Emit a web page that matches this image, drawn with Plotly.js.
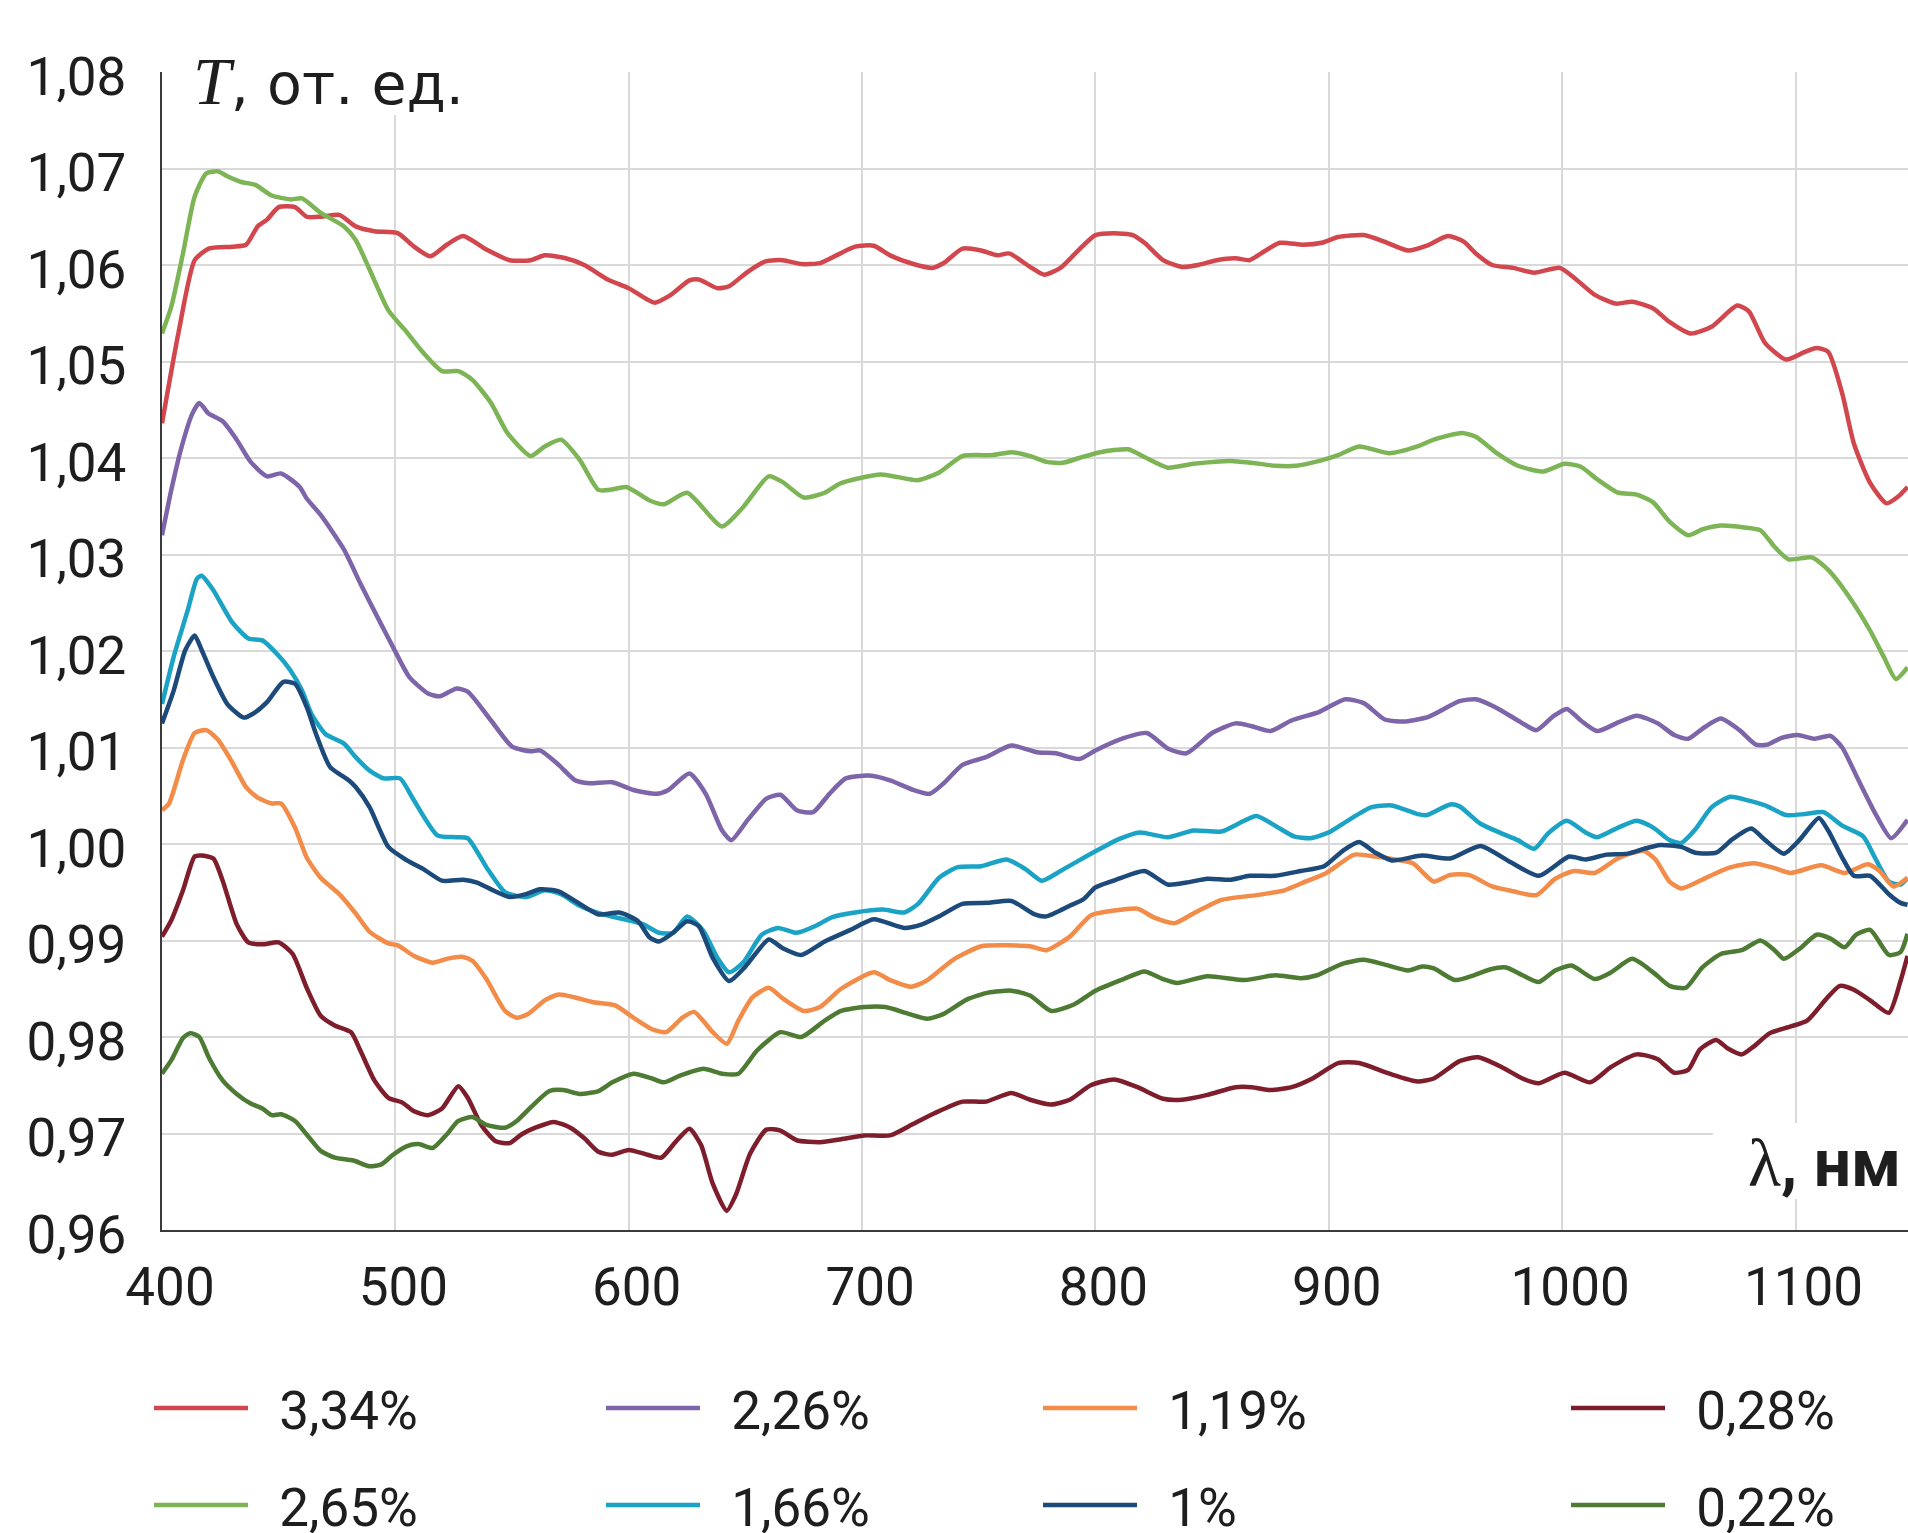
<!DOCTYPE html>
<html>
<head>
<meta charset="utf-8">
<script src="https://cdn.plot.ly/plotly-3.0.1.min.js"></script>
<style>html,body{margin:0;padding:0;background:#fff;}#chart{width:1908px;height:1533px;}</style>
</head>
<body>
<div id="chart"></div>
<script>
// Series: [wavelength nm, T]
const s334 = [[400,1.0436],[407,1.0529],[414,1.0605],[420,1.0617],[430,1.0619],[436,1.0621],[441,1.064],[445,1.0647],[450,1.066],[457,1.066],[462,1.065],[468,1.065],[476,1.0652],[483,1.064],[491,1.0635],[501,1.0633],[508,1.0619],[515,1.0609],[522,1.0621],[529,1.063],[539,1.0616],[549,1.0605],[558,1.0605],[564,1.061],[573,1.0607],[581,1.06],[591,1.0585],[600,1.0576],[611,1.0561],[618,1.0569],[626,1.0584],[630,1.0585],[638,1.0576],[643,1.0578],[651,1.0593],[659,1.0604],[666,1.0605],[674,1.0601],[682,1.0602],[689,1.061],[697,1.0619],[705,1.062],[712,1.061],[722,1.0601],[730,1.0597],[735,1.0602],[743,1.0617],[751,1.0615],[758,1.061],[763,1.0612],[772,1.0598],[778,1.059],[785,1.0597],[793,1.0616],[800,1.0631],[808,1.0633],[816,1.0631],[821,1.0623],[829,1.0605],[837,1.0598],[844,1.06],[852,1.0605],[860,1.0607],[866,1.0605],[871,1.0612],[879,1.0623],[889,1.0621],[897,1.0623],[904,1.0629],[915,1.0631],[924,1.0624],[934,1.0615],[942,1.062],[951,1.063],[958,1.0624],[963,1.0612],[970,1.06],[979,1.0597],[988,1.0592],[999,1.0597],[1006,1.0585],[1014,1.0569],[1023,1.056],[1030,1.0562],[1039,1.0555],[1046,1.0541],[1055,1.0529],[1064,1.0536],[1075,1.0558],[1080,1.0552],[1087,1.0519],[1096,1.0502],[1104,1.051],[1109,1.0514],[1114,1.051],[1120,1.0467],[1125,1.0415],[1132,1.0374],[1139,1.0353],[1144,1.036],[1148,1.037]];

const s265 = [[400,1.0529],[404,1.0557],[409,1.0612],[414,1.0671],[419,1.0695],[424,1.0697],[428,1.0692],[434,1.0686],[440,1.0683],[447,1.0672],[455,1.0668],[460,1.0669],[468,1.0654],[478,1.064],[483,1.0626],[489,1.0595],[497,1.0553],[504,1.0533],[512,1.0509],[520,1.049],[527,1.049],[533,1.0481],[541,1.0457],[548,1.0426],[558,1.0402],[564,1.0412],[571,1.0419],[579,1.0398],[587,1.0367],[592,1.0367],[599,1.037],[609,1.0356],[615,1.0352],[625,1.0364],[640,1.0329],[649,1.0349],[660,1.0381],[666,1.0375],[675,1.0359],[684,1.0364],[691,1.0374],[708,1.0383],[724,1.0377],[733,1.0385],[743,1.0402],[756,1.0403],[764,1.0406],[772,1.0402],[779,1.0396],[786,1.0395],[793,1.04],[802,1.0406],[814,1.0409],[821,1.0401],[831,1.039],[842,1.0394],[858,1.0397],[867,1.0395],[877,1.0392],[886,1.0392],[896,1.0397],[904,1.0403],[913,1.0412],[926,1.0405],[938,1.0412],[945,1.0419],[957,1.0426],[963,1.0422],[972,1.0405],[981,1.0392],[992,1.0386],[1001,1.0394],[1008,1.0391],[1015,1.0378],[1024,1.0364],[1032,1.0362],[1039,1.0354],[1046,1.0334],[1054,1.032],[1060,1.0326],[1068,1.033],[1078,1.0328],[1085,1.0325],[1091,1.0308],[1097,1.0295],[1107,1.0297],[1114,1.0284],[1123,1.0256],[1132,1.0221],[1138,1.0193],[1143,1.0171],[1148,1.0183]];

const s226 = [[400,1.032],[404,1.0367],[408,1.0408],[413,1.0446],[416,1.0457],[420,1.0446],[426,1.0438],[432,1.0419],[438,1.0396],[445,1.0381],[451,1.0384],[459,1.037],[462,1.0358],[468,1.0341],[478,1.0305],[485,1.027],[493,1.0232],[499,1.0204],[506,1.0173],[514,1.0156],[519,1.0153],[526,1.0161],[531,1.0158],[541,1.0128],[550,1.0101],[558,1.0096],[562,1.0097],[570,1.0082],[577,1.0066],[583,1.0063],[593,1.0064],[602,1.0056],[612,1.0052],[617,1.0056],[626,1.0073],[633,1.0052],[640,1.0014],[644,1.0004],[651,1.0025],[659,1.0047],[665,1.0051],[672,1.0035],[679,1.0033],[686,1.0052],[693,1.0068],[703,1.0071],[712,1.0066],[722,1.0056],[729,1.0052],[735,1.0063],[743,1.0082],[753,1.009],[764,1.0102],[775,1.0095],[783,1.0094],[793,1.0088],[800,1.0097],[810,1.0108],[822,1.0115],[831,1.0099],[839,1.0094],[850,1.0115],[860,1.0125],[867,1.0122],[875,1.0117],[884,1.0128],[896,1.0137],[907,1.015],[915,1.0146],[924,1.0129],[933,1.0127],[943,1.0132],[956,1.0148],[963,1.015],[972,1.0141],[981,1.0128],[989,1.0118],[996,1.0132],[1002,1.014],[1008,1.0128],[1015,1.0117],[1024,1.0126],[1032,1.0133],[1041,1.0125],[1048,1.0113],[1054,1.0109],[1061,1.0121],[1068,1.013],[1076,1.0118],[1083,1.0103],[1088,1.0103],[1094,1.011],[1101,1.0113],[1108,1.0109],[1115,1.0112],[1120,1.01],[1127,1.0066],[1135,1.0028],[1141,1.0006],[1148,1.0025]];

const s166 = [[400,1.0145],[405,1.0194],[411,1.0242],[415,1.0275],[417,1.0278],[422,1.0263],[430,1.023],[437,1.0213],[443,1.0211],[450,1.0195],[455,1.018],[460,1.0159],[464,1.0135],[470,1.0114],[478,1.0104],[483,1.009],[489,1.0076],[495,1.0068],[502,1.0068],[508,1.0045],[518,1.0009],[526,1.0007],[531,1.0006],[539,0.9976],[547,0.995],[556,0.9945],[564,0.9952],[571,0.9948],[579,0.9936],[589,0.9927],[598,0.9922],[606,0.9917],[613,0.9908],[619,0.9908],[625,0.9925],[632,0.991],[638,0.9882],[643,0.9867],[649,0.9877],[657,0.9906],[664,0.9913],[672,0.9908],[680,0.9915],[687,0.9924],[697,0.9929],[709,0.9932],[718,0.9929],[724,0.9938],[733,0.9965],[741,0.9976],[751,0.9977],[762,0.9984],[770,0.9974],[777,0.9962],[785,0.9972],[793,0.9983],[802,0.9995],[810,1.0005],[819,1.0012],[831,1.0007],[842,1.0014],[854,1.0013],[862,1.0022],[869,1.0029],[877,1.0019],[885,1.0008],[892,1.0006],[900,1.0012],[908,1.0024],[918,1.0038],[927,1.004],[938,1.0031],[942,1.003],[952,1.0041],[956,1.0039],[965,1.0021],[974,1.0011],[981,1.0004],[988,0.9995],[994,1.0011],[1002,1.0024],[1010,1.0012],[1015,1.0007],[1024,1.0017],[1032,1.0024],[1039,1.0017],[1046,1.0004],[1051,1.0001],[1057,1.0015],[1064,1.0038],[1072,1.0049],[1080,1.0045],[1087,1.004],[1096,1.003],[1104,1.0031],[1112,1.0033],[1120,1.0019],[1129,1.0008],[1134,0.9986],[1140,0.9961],[1145,0.9958],[1148,0.9965]];

const s119 = [[400,1.0035],[403,1.0042],[409,1.0087],[414,1.0115],[419,1.0118],[424,1.0108],[430,1.0085],[436,1.0059],[441,1.0048],[447,1.0042],[451,1.0042],[457,1.0017],[462,0.9986],[468,0.9965],[476,0.9948],[483,0.9928],[489,0.9909],[497,0.9897],[501,0.9895],[508,0.9884],[516,0.9877],[522,0.9881],[529,0.9883],[533,0.9879],[539,0.986],[547,0.9827],[552,0.982],[557,0.9824],[564,0.9838],[570,0.9844],[577,0.9841],[585,0.9836],[594,0.9833],[602,0.982],[610,0.9808],[616,0.9805],[623,0.982],[628,0.9826],[636,0.9805],[642,0.9793],[647,0.9817],[653,0.9841],[660,0.9851],[666,0.984],[675,0.9827],[682,0.9831],[691,0.985],[705,0.9867],[712,0.9859],[721,0.9852],[728,0.9859],[739,0.988],[751,0.9894],[762,0.9895],[772,0.9894],[779,0.989],[789,0.9904],[798,0.9926],[808,0.9931],[818,0.9933],[825,0.9924],[834,0.9918],[842,0.9928],[854,0.9942],[869,0.9947],[881,0.9952],[890,0.9961],[899,0.997],[911,0.9989],[920,0.9987],[926,0.9985],[936,0.998],[945,0.9961],[952,0.9968],[960,0.9968],[970,0.9956],[979,0.9951],[989,0.9947],[997,0.9964],[1005,0.9972],[1014,0.997],[1023,0.9984],[1029,0.999],[1035,0.9993],[1040,0.9984],[1046,0.9961],[1051,0.9954],[1060,0.9963],[1071,0.9975],[1082,0.998],[1091,0.9975],[1098,0.997],[1111,0.9978],[1121,0.997],[1131,0.9979],[1136,0.9972],[1142,0.9956],[1148,0.9965]];

const s100 = [[400,1.0125],[405,1.0159],[410,1.0201],[414,1.0216],[417,1.0201],[422,1.0173],[428,1.0145],[435,1.0131],[439,1.0135],[445,1.0147],[452,1.0168],[457,1.0166],[462,1.0142],[466,1.0114],[472,1.008],[480,1.0066],[483,1.0059],[489,1.0038],[497,0.9997],[505,0.9983],[512,0.9974],[520,0.9962],[529,0.9963],[535,0.996],[541,0.9953],[549,0.9945],[556,0.9948],[562,0.9953],[570,0.9951],[577,0.9941],[587,0.9927],[596,0.9929],[604,0.992],[609,0.9903],[613,0.9899],[619,0.9908],[625,0.992],[630,0.9915],[636,0.9882],[643,0.9858],[650,0.9873],[660,0.9901],[666,0.9892],[674,0.9885],[684,0.9899],[695,0.9911],[705,0.9922],[718,0.9913],[726,0.9917],[733,0.9925],[743,0.9938],[754,0.9939],[764,0.9941],[774,0.9927],[779,0.9925],[789,0.9936],[795,0.9943],[800,0.9955],[810,0.9964],[821,0.9972],[831,0.9958],[839,0.996],[848,0.9964],[858,0.9963],[866,0.9967],[877,0.9967],[888,0.9972],[898,0.9977],[906,0.9993],[913,1.0002],[920,0.9991],[927,0.9983],[940,0.9988],[952,0.9985],[965,0.9998],[978,0.9981],[990,0.9967],[1003,0.9987],[1010,0.9984],[1019,0.9989],[1028,0.999],[1035,0.9995],[1042,0.9999],[1051,0.9997],[1057,0.9991],[1066,0.9991],[1073,1.0005],[1081,1.0016],[1087,1.0004],[1095,0.999],[1102,1.0005],[1110,1.0027],[1114,1.0014],[1120,0.9986],[1125,0.9967],[1132,0.9967],[1140,0.9948],[1145,0.9939],[1148,0.9937]];

const s028 = [[400,0.9904],[404,0.9921],[409,0.9952],[414,0.9987],[417,0.9988],[422,0.9985],[426,0.9962],[432,0.9917],[437,0.9898],[443,0.9896],[450,0.9898],[456,0.9886],[462,0.9851],[468,0.9822],[474,0.9812],[481,0.9805],[485,0.9786],[491,0.9755],[497,0.9737],[503,0.9732],[508,0.9723],[514,0.9719],[520,0.9726],[527,0.9749],[531,0.9737],[537,0.9708],[543,0.9692],[549,0.969],[554,0.9699],[560,0.9706],[568,0.9712],[575,0.9706],[581,0.9695],[587,0.9681],[593,0.9678],[600,0.9683],[608,0.9678],[614,0.9675],[620,0.9691],[626,0.9705],[631,0.9688],[636,0.9648],[642,0.962],[646,0.9637],[652,0.9679],[659,0.9704],[665,0.9703],[672,0.9693],[682,0.9691],[691,0.9694],[701,0.9698],[712,0.9698],[722,0.971],[731,0.9721],[743,0.9733],[753,0.9733],[764,0.9742],[772,0.9735],[781,0.973],[789,0.9735],[798,0.975],[808,0.9756],[818,0.9748],[829,0.9736],[837,0.9735],[848,0.974],[860,0.9748],[867,0.9748],[875,0.9745],[884,0.9748],[893,0.9757],[904,0.9773],[913,0.9773],[926,0.9762],[938,0.9754],[945,0.9757],[956,0.9775],[964,0.9779],[974,0.9769],[983,0.9757],[990,0.9752],[1001,0.9763],[1012,0.9753],[1021,0.9769],[1032,0.9782],[1041,0.9777],[1048,0.9763],[1054,0.9766],[1059,0.9787],[1066,0.9797],[1071,0.9788],[1077,0.9782],[1082,0.979],[1089,0.9804],[1098,0.9811],[1105,0.9817],[1113,0.9839],[1119,0.9853],[1125,0.9849],[1132,0.9838],[1140,0.9825],[1145,0.9858],[1148,0.9884]];

const s022 = [[400,0.9762],[404,0.9776],[409,0.9799],[412,0.9804],[416,0.98],[420,0.9779],[426,0.9755],[432,0.9741],[438,0.9731],[443,0.9726],[447,0.9719],[451,0.972],[457,0.9713],[462,0.9699],[468,0.9682],[474,0.9675],[482,0.9672],[489,0.9666],[494,0.9668],[499,0.9678],[505,0.9687],[510,0.9689],[516,0.9685],[522,0.9699],[527,0.9713],[533,0.9717],[539,0.9709],[547,0.9706],[552,0.9713],[558,0.9727],[566,0.9744],[572,0.9745],[579,0.9741],[587,0.9744],[593,0.9753],[602,0.9762],[610,0.9757],[615,0.9753],[622,0.976],[632,0.9767],[640,0.9762],[647,0.9762],[655,0.9786],[665,0.9805],[674,0.98],[684,0.9817],[691,0.9827],[701,0.9831],[710,0.9831],[720,0.9824],[728,0.9819],[735,0.9824],[745,0.9839],[754,0.9846],[764,0.9848],[772,0.9843],[781,0.9827],[791,0.9834],[800,0.9848],[812,0.986],[821,0.9868],[829,0.986],[835,0.9856],[848,0.9863],[864,0.9859],[877,0.9864],[888,0.9861],[895,0.9864],[906,0.9876],[915,0.988],[924,0.9875],[934,0.9869],[940,0.9873],[945,0.9871],[954,0.9859],[961,0.9863],[969,0.987],[976,0.9872],[983,0.9864],[990,0.9857],[997,0.9869],[1004,0.9874],[1014,0.986],[1021,0.9867],[1030,0.9881],[1039,0.9867],[1046,0.9853],[1053,0.9851],[1060,0.9872],[1068,0.9886],[1077,0.989],[1085,0.99],[1091,0.989],[1095,0.9881],[1102,0.9892],[1109,0.9906],[1115,0.9902],[1121,0.9893],[1126,0.9906],[1132,0.9911],[1140,0.9885],[1145,0.9888],[1148,0.9907]];

const seriesNames = ['3,34%', '2,65%', '2,26%', '1,66%', '1,19%', '1%', '0,28%', '0,22%'];
const seriesData = [s334, s265, s226, s166, s119, s100, s028, s022];
const seriesColors = ['#D2474D', '#7DB455', '#7E64A8', '#1BA3C6', '#F28C48', '#1C4A7A', '#7E1E2C', '#4E7B34'];
const legendIds = ['legend', 'legend5', 'legend2', 'legend6', 'legend3', 'legend7', 'legend4', 'legend8'];

const yTickVals = [0.96, 0.97, 0.98, 0.99, 1.00, 1.01, 1.02, 1.03, 1.04, 1.05, 1.06, 1.07, 1.08];
const yTickText = ['0,96', '0,97', '0,98', '0,99', '1,00', '1,01', '1,02', '1,03', '1,04', '1,05', '1,06', '1,07', '1,08'];
const xTickVals = [400, 500, 600, 700, 800, 900, 1000, 1100];

const W = 1908, H = 1533;
const PW = 1746, PH = 1158; // plot area size in px
const FONT = 'Roboto, "Noto Sans", sans-serif';
const TXT = '#1e1e1e';
const GAP = '\u00A0\u00A0';

const traces = seriesData.map((s, i) => ({
  type: 'scatter',
  mode: 'lines',
  name: GAP + seriesNames[i],
  x: s.map(p => p[0]),
  y: s.map(p => p[1]),
  line: { color: seriesColors[i], width: 4.5, shape: 'spline', smoothing: 0.6 },
  legend: legendIds[i],
  hoverinfo: 'skip'
}));

// legend column positions (container coords)
const colX = [149 / W, 601 / W, 1038 / W, 1566 / W];
const rowY = [1 - 1408 / H, 1 - 1505 / H];
function mkLegend(col, row) {
  return {
    x: colX[col], y: rowY[row], xref: 'container', yref: 'container',
    xanchor: 'left', yanchor: 'middle', orientation: 'v',
    font: { family: FONT, size: 53, color: TXT },
    itemwidth: 94, bgcolor: 'rgba(0,0,0,0)', borderwidth: 0
  };
}

const layout = {
  width: W, height: H,
  paper_bgcolor: '#ffffff', plot_bgcolor: '#ffffff',
  margin: { l: 162, r: 0, t: 72, b: 303, autoexpand: false },
  font: { family: FONT, size: 53, color: TXT },
  showlegend: true,
  legend: mkLegend(0, 0),
  legend2: mkLegend(1, 0),
  legend3: mkLegend(2, 0),
  legend4: mkLegend(3, 0),
  legend5: mkLegend(0, 1),
  legend6: mkLegend(1, 1),
  legend7: mkLegend(2, 1),
  legend8: mkLegend(3, 1),
  xaxis: {
    range: [400, 1148.2], tickmode: 'array', tickvals: xTickVals,
    showgrid: true, gridcolor: '#d9d9d9', gridwidth: 2,
    showline: true, linecolor: '#3a3a3a', linewidth: 2,
    zeroline: false, ticks: '', ticklabelstandoff: 9, ticklabelshift: 8,
    tickfont: { family: FONT, size: 53, color: TXT }
  },
  yaxis: {
    range: [0.96, 1.08], tickmode: 'array', tickvals: yTickVals, ticktext: yTickText,
    showgrid: true, gridcolor: '#d9d9d9', gridwidth: 2,
    showline: true, linecolor: '#3a3a3a', linewidth: 2,
    zeroline: false, ticks: '', ticklabelstandoff: 23, ticklabelshift: 4,
    tickfont: { family: FONT, size: 53, color: TXT }
  },
  shapes: [
    { type: 'rect', xref: 'paper', yref: 'paper', layer: 'above',
      x0: 28 / PW, x1: 321 / PW, y0: 1 - 43 / PH, y1: 1 + 20 / PH,
      fillcolor: '#ffffff', line: { width: 0 } },
    { type: 'rect', xref: 'paper', yref: 'paper', layer: 'above',
      x0: (1713 - 162) / PW, x1: 1.01, y0: 31 / PH, y1: 107 / PH,
      fillcolor: '#ffffff', line: { width: 0 } }
  ],
  annotations: [
    { xref: 'paper', yref: 'paper', x: 29 / PW, y: 1 - 9 / PH,
      xanchor: 'left', yanchor: 'middle', showarrow: false,
      text: '<span style="font-family:\'Liberation Serif\';font-size:68px"><i>T</i></span>, от. ед.',
      font: { family: '"DejaVu Sans", sans-serif', size: 57, color: TXT } },
    { xref: 'paper', yref: 'paper', x: (1746 - 162) / PW, y: 67 / PH,
      xanchor: 'left', yanchor: 'middle', showarrow: false,
      text: '<span style="font-family:\'Liberation Serif\';font-size:68px">λ</span><b>, нм</b>',
      font: { family: FONT, size: 66, color: TXT } }
  ]
};

Plotly.newPlot('chart', traces, layout, { displayModeBar: false, staticPlot: true });
</script>
</body>
</html>
